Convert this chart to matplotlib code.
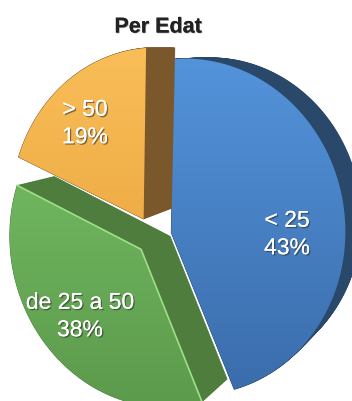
import numpy as np
import matplotlib.pyplot as plt
from matplotlib.patches import Polygon
from matplotlib.colors import to_rgb
import matplotlib.patheffects as pe

plt.rcParams['font.family'] = ['Liberation Sans', 'DejaVu Sans']

title = "Per Edat"
groups = ["< 25", "de 25 a 50", "> 50"]
shares = [43, 38, 19]

face_light = ["#5393da", "#6fb55e", "#f9be58"]
face_dark = ["#3b6dac", "#5c9a4c", "#efad47"]
side_colors = ["#2a4869", "#4f7d3d", "#7a582c"]
label_xy = [(287, 234), (80, 316), (85, 123)]

# pie plane (unit disc) -> canvas pixels, a tilted-disc homography
H = np.array([[131.846, -3.53817, 153.428],
              [-17.243, -173.727, 235.958],
              [-0.114189, -0.0409695, 1.0]])
EXPLODE = 0.12
VANISH = np.array([594.0, 47.0])   # where the extrusion edges converge
DEPTH = 0.936                      # scale of the back face


def project(pts):
    p = np.column_stack([pts, np.ones(len(pts))]) @ H.T
    return p[:, :2] / p[:, 2:]


# clockwise from 12 o'clock, each slice pushed out along its mid angle
faces = []
start = 90.0
for s in shares:
    sweep = 360.0 * s / sum(shares)
    mid = np.radians(start - sweep / 2)
    c = EXPLODE * np.array([np.cos(mid), np.sin(mid)])
    ang = np.radians(np.linspace(start, start - sweep, 120))
    pts = np.vstack([c, c + np.column_stack([np.cos(ang), np.sin(ang)])])
    faces.append(project(pts))
    start -= sweep

fig = plt.figure(figsize=(3.52, 4.01), dpi=100)
ax = fig.add_axes([0, 0, 1, 1])

# extruded sides, swept towards the vanishing point
for face, col in zip(faces, side_colors):
    for k in np.linspace(DEPTH, 1, 40):
        ax.add_patch(Polygon(VANISH + k * (face - VANISH), closed=True,
                             facecolor=col, edgecolor=col, lw=0.6, zorder=1))

# front faces with a soft top-to-bottom gradient
for i, face in enumerate(faces):
    poly = Polygon(face, closed=True, facecolor='none', edgecolor='none')
    ax.add_patch(poly)
    x0, y0 = face.min(axis=0)
    x1, y1 = face.max(axis=0)
    t = np.linspace(0, 1, 64)[:, None, None]
    grad = (1 - t) * np.array(to_rgb(face_light[i])) + t * np.array(to_rgb(face_dark[i]))
    im = ax.imshow(grad, extent=(x0, x1, y1, y0), aspect='auto',
                   interpolation='bilinear', zorder=2)
    im.set_clip_path(poly)

# light rim on the green radial edges
g = faces[1]
ax.plot([g[-1, 0], g[0, 0], g[1, 0]], [g[-1, 1], g[0, 1], g[1, 1]],
        color='#9fe08a', lw=1.2, zorder=3)

shadow = [pe.withSimplePatchShadow(offset=(1, -1), shadow_rgbFace='#333333', alpha=0.6),
          pe.Normal()]
for (x, y), name, s in zip(label_xy, groups, shares):
    ax.text(x, y, f"{name}\n{s}%", ha='center', va='center', fontsize=16.5,
            color='white', linespacing=1.25, path_effects=shadow, zorder=4)

ax.text(158, 27, title, ha='center', va='center', fontsize=15.5, fontweight='bold',
        color='#222222',
        path_effects=[pe.withSimplePatchShadow(offset=(0.6, -0.6), alpha=0.3), pe.Normal()])

ax.set_xlim(0, 352)
ax.set_ylim(401, 0)
ax.axis('off')
fig.savefig('out.png', dpi=100)
